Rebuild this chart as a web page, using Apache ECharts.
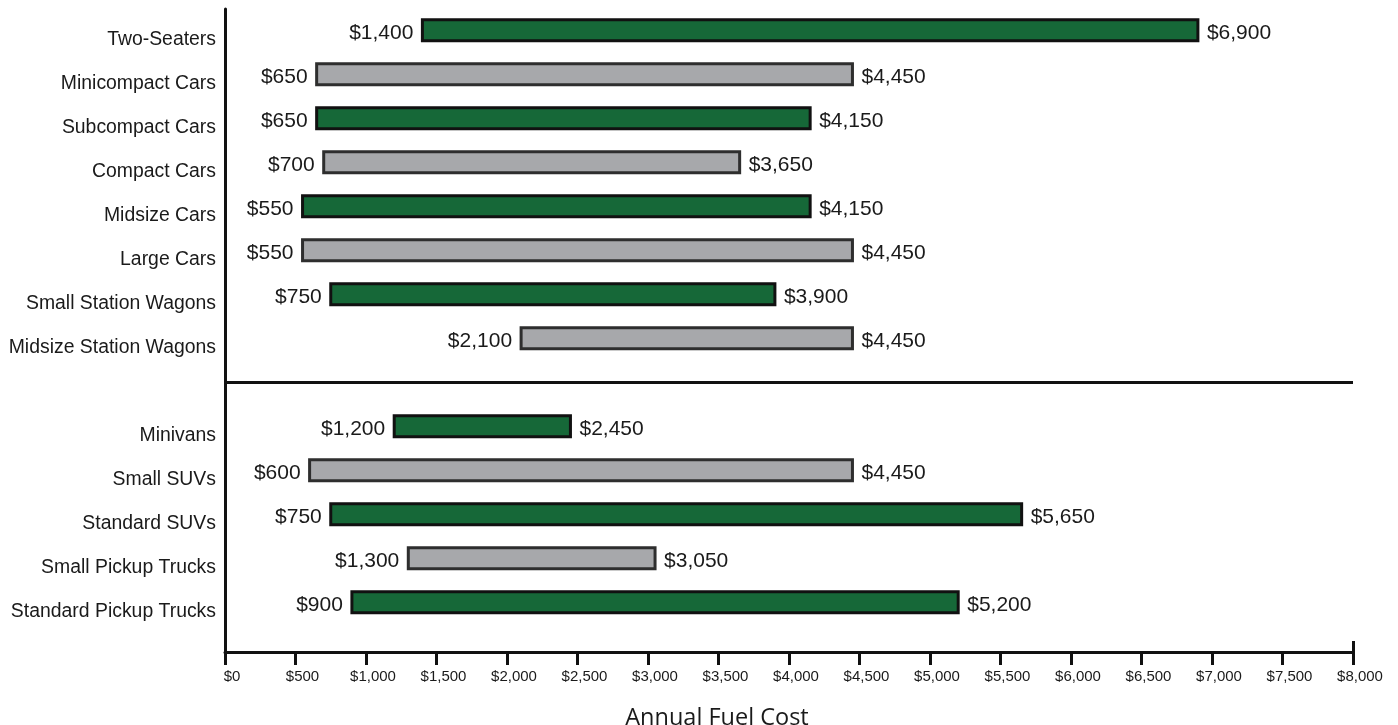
<!DOCTYPE html>
<html>
<head>
<meta charset="utf-8">
<script src="https://cdn.jsdelivr.net/npm/echarts@6/dist/echarts.min.js"></script>
<style>
html,body{margin:0;padding:0;background:#fff;}
#chart{width:1398px;height:725px;}
</style>
</head>
<body>
<div id="chart"></div>
<script>
// Categories top to bottom; '' is the gap row holding the separator line
var categories = ['Two-Seaters', 'Minicompact Cars', 'Subcompact Cars', 'Compact Cars', 'Midsize Cars', 'Large Cars', 'Small Station Wagons', 'Midsize Station Wagons', '', 'Minivans', 'Small SUVs', 'Standard SUVs', 'Small Pickup Trucks', 'Standard Pickup Trucks'];
var lowCost  = [1400, 650, 650, 700, 550, 550, 750, 2100, null, 1200, 600, 750, 1300, 900];
var highCost = [6900, 4450, 4150, 3650, 4150, 4450, 3900, 4450, null, 2450, 4450, 5650, 3050, 5200];
var barKind  = ['green', 'grey', 'green', 'grey', 'green', 'grey', 'green', 'grey', null, 'green', 'grey', 'green', 'grey', 'green'];
var xTickValues = [0, 500, 1000, 1500, 2000, 2500, 3000, 3500, 4000, 4500, 5000, 5500, 6000, 6500, 7000, 7500, 8000];
var separatorRow = 8;

var fills = { green: '#166838', grey: '#a7a8ab' };
var strokes = { green: '#111111', grey: '#2e2e2e' };

function money(v) {
  return '$' + Number(v).toLocaleString('en-US');
}

var seriesData = [];
var labelRows = [];
for (var i = 0; i < categories.length; i++) {
  if (lowCost[i] == null) continue;
  seriesData.push([lowCost[i], highCost[i], i, barKind[i]]);
  labelRows.push(i);
}

var FONT = '"Liberation Sans", Arial, sans-serif';

var chart = echarts.init(document.getElementById('chart'));
chart.setOption({
  animation: false,
  backgroundColor: '#ffffff',
  grid: { left: 225, right: 45, top: 9, bottom: 73, containLabel: false, outerBoundsMode: 'none' },
  xAxis: [{
    type: 'value',
    min: 0, max: 8000, interval: 500,
    position: 'bottom',
    axisLine: { show: true, onZero: false, lineStyle: { color: '#111', width: 3 } },
    axisTick: { show: true, length: 13, lineStyle: { color: '#111', width: 3 } },
    splitLine: { show: false },
    axisLabel: {
      show: true,
      customValues: xTickValues,
      margin: 17,
      fontSize: 15,
      fontFamily: FONT,
      color: '#1a1a1a',
      padding: [0, 0, 0, 14],
      formatter: function (v) { return money(v); }
    },
    name: 'Annual Fuel Cost',
    nameLocation: 'middle',
    nameGap: 54,
    nameTextStyle: {
      fontSize: 23.5,
      fontFamily: '"Open Sans", sans-serif',
      color: '#1a1a1a',
      padding: [0, 144, 0, 0]
    }
  }, {
    type: 'value',
    min: 0, max: 8000,
    position: 'bottom',
    axisLine: { show: false, onZero: false },
    axisTick: { show: true, inside: true, length: 11, customValues: [8000], lineStyle: { color: '#111', width: 3 } },
    axisLabel: { show: false },
    splitLine: { show: false }
  }],
  yAxis: {
    type: 'value',
    inverse: true,
    min: -0.484, max: 14.13,
    axisLine: { show: true, onZero: false, lineStyle: { color: '#111', width: 3 } },
    axisTick: { show: false },
    splitLine: { show: false },
    axisLabel: {
      show: true,
      customValues: labelRows,
      margin: 9,
      fontSize: 19.4,
      lineHeight: 19,
      verticalAlign: 'top',
      fontFamily: FONT,
      color: '#1a1a1a',
      formatter: function (v) { return categories[Math.round(v)]; }
    }
  },
  series: [{
    type: 'custom',
    xAxisIndex: 0,
    yAxisIndex: 0,
    data: seriesData,
    renderItem: function (params, api) {
      var lo = api.value(0), hi = api.value(1), row = api.value(2);
      var kind = seriesData[params.dataIndex][3];
      var p0 = api.coord([lo, row]);
      var p1 = api.coord([hi, row]);
      var h = 21;
      return {
        type: 'group',
        children: [{
          type: 'rect',
          shape: { x: p0[0], y: p0[1] - h / 2, width: p1[0] - p0[0], height: h },
          style: { fill: fills[kind], stroke: strokes[kind], lineWidth: 3 }
        }, {
          type: 'text',
          x: p0[0] - 9, y: p0[1] + 3,
          style: {
            text: money(lo), align: 'right', verticalAlign: 'middle',
            font: '21px ' + FONT, fill: '#1a1a1a'
          }
        }, {
          type: 'text',
          x: p1[0] + 9, y: p1[1] + 3,
          style: {
            text: money(hi), align: 'left', verticalAlign: 'middle',
            font: '21px ' + FONT, fill: '#1a1a1a'
          }
        }]
      };
    },
    markLine: {
      silent: true,
      symbol: 'none',
      label: { show: false },
      lineStyle: { color: '#111', width: 3, type: 'solid' },
      data: [{ yAxis: separatorRow }]
    }
  }]
});
</script>
</body>
</html>
